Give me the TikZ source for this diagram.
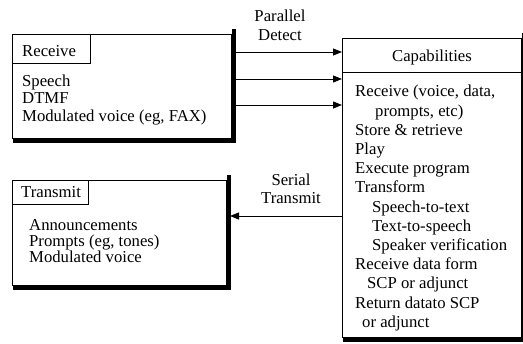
\documentclass[tikz,border=0pt]{standalone}
\usepackage{fontspec}
\setmainfont{Liberation Serif}
\usetikzlibrary{arrows.meta}
\begin{document}
\begin{tikzpicture}[x=1pt,y=-1pt,
  bx/.style={draw, line width=0.9pt, inner sep=0pt, anchor=north west},
  shline/.style={line width=4pt, line cap=rect},
  txt/.style={anchor=base west, inner sep=0pt, font=\fontsize{16.7}{18}\selectfont},
  ctxt/.style={anchor=base, inner sep=0pt, font=\fontsize{16.7}{18}\selectfont},
  arr/.style={line width=0.9pt, -{Triangle[length=9pt,width=7pt]}}]
\useasboundingbox (0,0) rectangle (523,344);
% Receive box
\node[bx, minimum width=219pt, minimum height=104pt] (recv) at (12,34) {};
\draw[shline] ([shift={(2.4pt,3pt)}]recv.north east) -- ([shift={(2.4pt,-2.4pt)}]recv.south east) -- ([shift={(3pt,-2.4pt)}]recv.south west);
\node[bx, minimum width=78pt, minimum height=29pt] (recvh) at (12,34) {};
\node[txt] (recvt) at (22,57) {Receive};
\node[txt] (r1) at (22,87) {Speech};
\node[txt] (r2) at (22,104) {DTMF};
\node[txt] (r3) at (22,122) {Modulated voice (eg, FAX)};
% Transmit box
\node[bx, minimum width=214pt, minimum height=105pt] (trans) at (12,180) {};
\draw[shline] ([shift={(2.4pt,3pt)}]trans.north east) -- ([shift={(2.4pt,-2.4pt)}]trans.south east) -- ([shift={(3pt,-2.4pt)}]trans.south west);
\node[bx, minimum width=76pt, minimum height=24pt] (transh) at (12,180) {};
\node[txt] (transt) at (21,198) {Transmit};
\node[txt] (t1) at (29,231) {Announcements};
\node[txt] (t2) at (29,247) {Prompts (eg, tones)};
\node[txt] (t3) at (29,263) {Modulated voice};
% Capabilities box
\node[bx, minimum width=179pt, minimum height=299pt] (cap) at (342,38) {};
\draw[shline] ([shift={(2.4pt,3pt)}]cap.north east) -- ([shift={(2.4pt,-2.4pt)}]cap.south east) -- ([shift={(3pt,-2.4pt)}]cap.south west);
\node[bx, minimum width=179pt, minimum height=34pt] (caph) at (342,38) {};
\node[ctxt] (capt) at (432,62) {Capabilities};
\node[txt] (c1) at (355,97) {Receive (voice, data,};
\node[txt] (c2) at (375,116.2) {prompts, etc)};
\node[txt] (c3) at (355,135.4) {Store \& retrieve};
\node[txt] (c4) at (355,154.6) {Play};
\node[txt] (c5) at (355,173.8) {Execute program};
\node[txt] (c6) at (355,193) {Transform};
\node[txt] (c7) at (372,212.2) {Speech-to-text};
\node[txt] (c8) at (372,231.4) {Text-to-speech};
\node[txt] (c9) at (372,250.6) {Speaker verification};
\node[txt] (c10) at (355,269.8) {Receive data form};
\node[txt] (c11) at (367,289) {SCP or adjunct};
\node[txt] (c12) at (355,308.2) {Return datato SCP};
\node[txt] (c13) at (362,327.4) {or adjunct};
% labels
\node[ctxt] (pl1) at (280,22) {Parallel};
\node[ctxt] (pl2) at (280,41) {Detect};
\node[ctxt] (sl1) at (291,186) {Serial};
\node[ctxt] (sl2) at (291,204) {Transmit};
% connectors
\coordinate (p1) at (234.5,52);
\coordinate (p2) at (234.5,79);
\coordinate (p3) at (234.5,105);
\coordinate (q1) at (230,216);
\draw[arr] (p1) -- (cap.west |- p1);
\draw[arr] (p2) -- (cap.west |- p2);
\draw[arr] (p3) -- (cap.west |- p3);
\draw[arr] (cap.west |- q1) -- (q1);
\end{tikzpicture}
\end{document}
